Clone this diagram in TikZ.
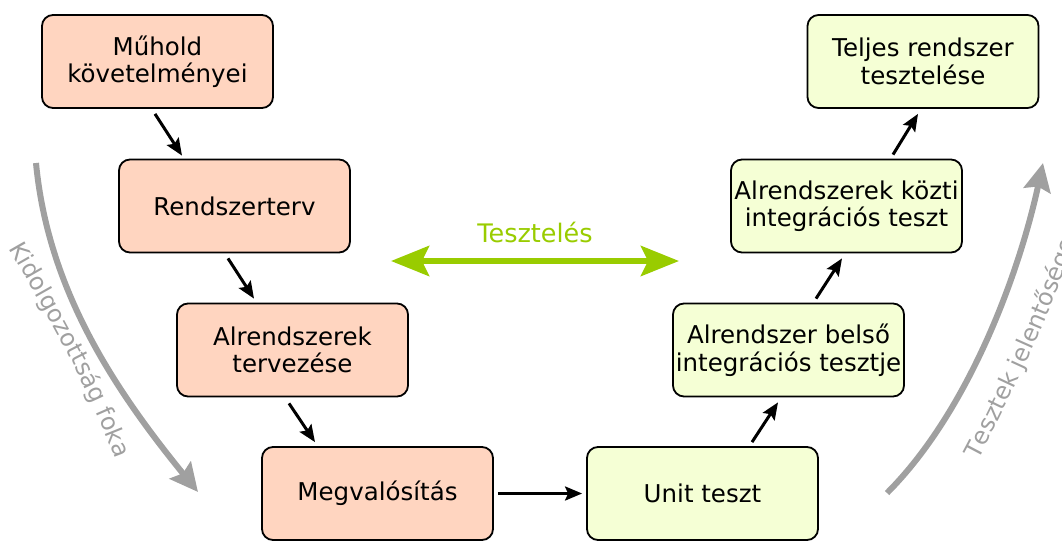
\documentclass[tikz,border=0pt]{standalone}
\usepackage{fontspec}
\setmainfont{DejaVu Sans}
\usetikzlibrary{arrows.meta,calc,decorations.text}
\definecolor{reqfill}{HTML}{FFD5C0}
\definecolor{testfill}{HTML}{F5FFD5}
\definecolor{testgreen}{HTML}{99CC00}
\definecolor{axisgray}{HTML}{A0A0A0}
\begin{document}
\begin{tikzpicture}[x=1pt,y=-1pt,
  box/.style={draw=black, line width=1.8pt, rounded corners=11pt,
    minimum width=231pt, minimum height=93pt, inner sep=0pt,
    align=center, font=\fontsize{24.5}{27.5}\selectfont},
  design/.style={box, fill=reqfill},
  verify/.style={box, fill=testfill},
  flow/.style={line width=3pt, -{Stealth[length=17pt,width=14pt,inset=3pt]}},
  trend/.style={axisgray, line width=6pt, -{Stealth[length=28pt,width=27pt,inset=4pt]}},
  both/.style={testgreen, line width=6pt,
    {Stealth[length=38pt,width=30pt,inset=7pt]}-{Stealth[length=38pt,width=30pt,inset=7pt]}}]
\useasboundingbox (0,0) rectangle (1062,541);
\clip (0,0) rectangle (1062,541);

% left branch: design steps
\node[design] (req)  at (157.5,61.5) {Műhold\\követelményei};
\node[design] (sys)  at (234.5,206)  {Rendszerterv};
\node[design] (sub)  at (292.5,350)  {Alrendszerek\\tervezése};
\node[design] (impl) at (377.5,493.5) {Megvalósítás};

% right branch: test steps
\node[verify] (unit)  at (702.5,493.5) {Unit teszt};
\node[verify] (inner) at (788.5,350)  {Alrendszer belső\\integrációs tesztje};
\node[verify] (inter) at (846.5,206)  {Alrendszerek közti\\integrációs teszt};
\node[verify] (full)  at (923,61.5)   {Teljes rendszer\\tesztelése};

% flow between the steps
\draw[flow] ($(req.south)+(-2.5,5)$) -- ($(sys.north)+(-52.5,-3)$);
\draw[flow] ($(sys.south)+(-6.5,5)$) -- ($(sub.north)+(-38.5,-4)$);
\draw[flow] ($(sub.south)+(-3.5,6)$) -- ($(impl.north)+(-62.5,-4)$);
\draw[flow] ($(impl.east)+(4,0)$) -- ($(unit.west)+(-4,0)$);
\draw[flow] ($(unit.north)+(49.5,-4)$) -- ($(inner.south)+(-10.5,5)$);
\draw[flow] ($(inner.north)+(27.5,-4)$) -- ($(inter.south)+(-4.5,5)$);
\draw[flow] ($(inter.north)+(46.5,-4)$) -- ($(full.south)+(-5,5)$);

% testing relation
\coordinate (tl) at (391,261);
\coordinate (tr) at (679,261);
\draw[both] (tl) -- (tr);
\node[text=testgreen, font=\fontsize{25.5}{28}\selectfont] (tlabel) at (535,232) {Tesztelés};

% side trends
\coordinate (lt) at (36,163);
\coordinate (lb) at (198,492);
\draw[trend] (lt) .. controls (48,290) and (115,390) .. (lb);
\coordinate (rb) at (887,493);
\coordinate (rt) at (1043,163);
\draw[trend] (rb) .. controls (970,410) and (1020,270) .. (rt);

\path[decorate, decoration={text along path, text color=axisgray,
    text={|\fontsize{24}{28}\selectfont|Kidolgozottság foka}}]
  (9,248) .. controls (49,318) and (88,383) .. (120,472);
\path[decorate, decoration={text along path, text color=axisgray,
    text={|\fontsize{24}{28}\selectfont|Tesztek jelentősége}}]
  (978,460) .. controls (1015.6,389.6) and (1060,291) .. (1085,215);
\end{tikzpicture}
\end{document}
